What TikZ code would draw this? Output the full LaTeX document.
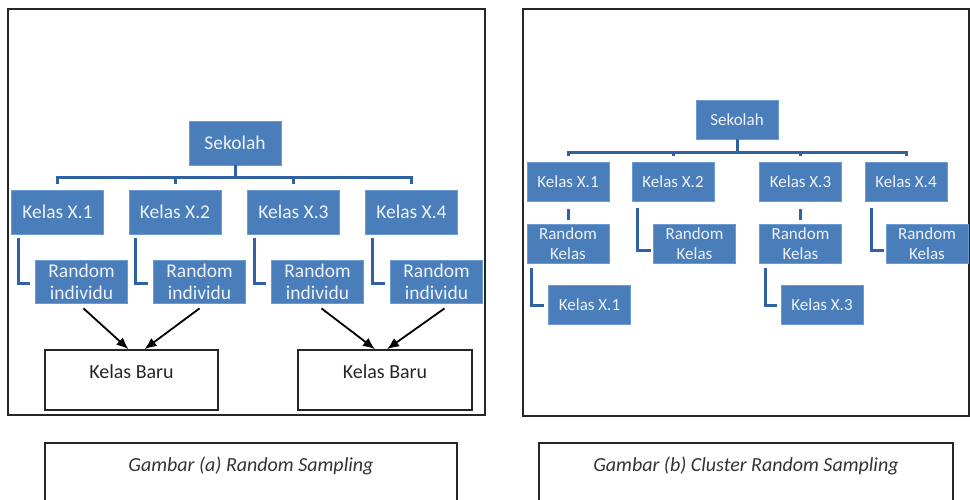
\documentclass[tikz,border=0pt]{standalone}
\usepackage{fontspec}
\setmainfont{Carlito}
\usetikzlibrary{arrows.meta,calc}

\definecolor{boxblue}{HTML}{4A7EBB}
\definecolor{boxedge}{HTML}{6B9BD2}
\definecolor{lineblue}{HTML}{2F61A3}
\definecolor{boxtext}{HTML}{EEF2F8}

\begin{document}
\begin{tikzpicture}[x=1pt,y=-1pt]
\tikzset{vertex/.style = {shape=rectangle,fill=boxblue,draw=boxedge,line width=0.8pt,text=boxtext,align=center,inner sep=0pt}}
\tikzset{bigvertex/.style = {vertex,minimum width=92pt,minimum height=44pt,font=\fontsize{19.5}{22}\selectfont}}
\tikzset{smallvertex/.style = {vertex,minimum width=82pt,minimum height=39pt,font=\fontsize{17}{19.5}\selectfont}}
\tikzset{plain/.style = {shape=rectangle,draw=black!85,line width=1.6pt,inner sep=0pt}}
\tikzset{newclass/.style = {plain,minimum height=60pt,text height=13pt,text depth=16pt,text=black!85,font=\fontsize{20}{22}\selectfont}}
\tikzset{caption/.style = {text=black!80,font=\fontsize{20}{22}\selectfont\itshape}}
\tikzset{tree/.style = {draw=lineblue,line width=3pt}}
\tikzset{edge/.style = {-{Latex[length=12pt,width=10pt]},line width=1.8pt}}

\useasboundingbox (0,0) rectangle (970,499);

%frames
\node[plain,minimum width=477pt,minimum height=406pt] (frameA) at (246.5,212) {};
\node[plain,minimum width=446pt,minimum height=407pt] (frameB) at (746,212.5) {};
\draw[plain] (45,520) |- (457,443) -- (457,520);
\draw[plain] (539,520) |- (953,443) -- (953,520);
\node[caption] (capA) at (251,466) {Gambar (a) Random Sampling};
\node[caption] (capB) at (746,466) {Gambar (b) Cluster Random Sampling};

%vertices (a)
\node[bigvertex] (sekA) at (235,143) {Sekolah};
\node[bigvertex] (ka1) at (57.5,212) {Kelas X.1};
\node[bigvertex] (ka2) at (175,212) {Kelas X.2};
\node[bigvertex] (ka3) at (293.5,212) {Kelas X.3};
\node[bigvertex] (ka4) at (411.5,212) {Kelas X.4};
\node[bigvertex,minimum height=43pt] (ra1) at (81.5,281.5) {Random\\individu};
\node[bigvertex,minimum height=43pt] (ra2) at (199.5,281.5) {Random\\individu};
\node[bigvertex,minimum height=43pt] (ra3) at (317.5,281.5) {Random\\individu};
\node[bigvertex,minimum height=43pt] (ra4) at (436.5,281.5) {Random\\individu};
\node[newclass,minimum width=173pt] (baru1) at (131.5,380) {Kelas Baru};
\node[newclass,minimum width=174pt] (baru2) at (385,380) {Kelas Baru};

%edges (a)
\draw[tree] (sekA.south) -- ++(0,12) -| ([yshift=6pt]ka1.north);
\draw[tree] (sekA.south) -- ++(0,12) -| ([yshift=6pt]ka4.north);
\draw[tree] ([yshift=-12pt]sekA.south -| ka2.north) -- ([yshift=6pt]ka2.north);
\draw[tree] ([yshift=-12pt]sekA.south -| ka3.north) -- ([yshift=6pt]ka3.north);
\draw[tree] ([xshift=7pt,yshift=-4pt]ka1.south west) |- ([xshift=-5pt,yshift=-1.5pt]ra1.west);
\draw[tree] ([xshift=7pt,yshift=-4pt]ka2.south west) |- ([xshift=-5pt,yshift=-1.5pt]ra2.west);
\draw[tree] ([xshift=7pt,yshift=-4pt]ka3.south west) |- ([xshift=-5pt,yshift=-1.5pt]ra3.west);
\draw[tree] ([xshift=7pt,yshift=-4pt]ka4.south west) |- ([xshift=-5pt,yshift=-1.5pt]ra4.west);
\draw[edge] ([xshift=2pt,yshift=-5pt]ra1.south) -- ([xshift=-3pt]baru1.north);
\draw[edge] ([xshift=0pt,yshift=-5pt]ra2.south) -- ([xshift=13pt]baru1.north);
\draw[edge] ([xshift=4pt,yshift=-5pt]ra3.south) -- ([xshift=-10pt]baru2.north);
\draw[edge] ([xshift=8pt,yshift=-5pt]ra4.south) -- ([xshift=2pt]baru2.north);

%vertices (b)
\node[smallvertex] (sekB) at (737,119.5) {Sekolah};
\node[smallvertex] (kb1) at (568,182) {Kelas X.1};
\node[smallvertex] (kb2) at (673,182) {Kelas X.2};
\node[smallvertex] (kb3) at (800.5,182) {Kelas X.3};
\node[smallvertex] (kb4) at (906,182) {Kelas X.4};
\node[smallvertex] (rb1) at (568,243.5) {Random\\Kelas};
\node[smallvertex] (rb2) at (694.5,243.5) {Random\\Kelas};
\node[smallvertex] (rb3) at (800.5,243.5) {Random\\Kelas};
\node[smallvertex] (rb4) at (927,243.5) {Random\\Kelas};
\node[smallvertex] (sb1) at (589.5,305) {Kelas X.1};
\node[smallvertex] (sb3) at (822,305) {Kelas X.3};

%edges (b)
\draw[tree] (sekB.south) -- ++(0,13) -| ([yshift=6pt]kb1.north);
\draw[tree] (sekB.south) -- ++(0,13) -| ([yshift=6pt]kb4.north);
\draw[tree] ([yshift=-13pt]sekB.south -| kb2.north) -- ([yshift=6pt]kb2.north);
\draw[tree] ([yshift=-13pt]sekB.south -| kb3.north) -- ([yshift=6pt]kb3.north);
\draw[tree] ([yshift=-7pt]kb1.south) -- ([yshift=4pt]rb1.north);
\draw[tree] ([yshift=-7pt]kb3.south) -- ([yshift=4pt]rb3.north);
\draw[tree] ([xshift=6pt,yshift=-6pt]kb2.south west) |- ([xshift=-2pt,yshift=-7pt]rb2.west);
\draw[tree] ([xshift=7pt,yshift=-6pt]kb4.south west) |- ([xshift=-2pt,yshift=-7pt]rb4.west);
\draw[tree] ([xshift=5pt,yshift=-5pt]rb1.south west) |- ([xshift=-4pt]sb1.west);
\draw[tree] ([xshift=6pt,yshift=-5pt]rb3.south west) |- ([xshift=-4pt]sb3.west);

\end{tikzpicture}
\end{document}
